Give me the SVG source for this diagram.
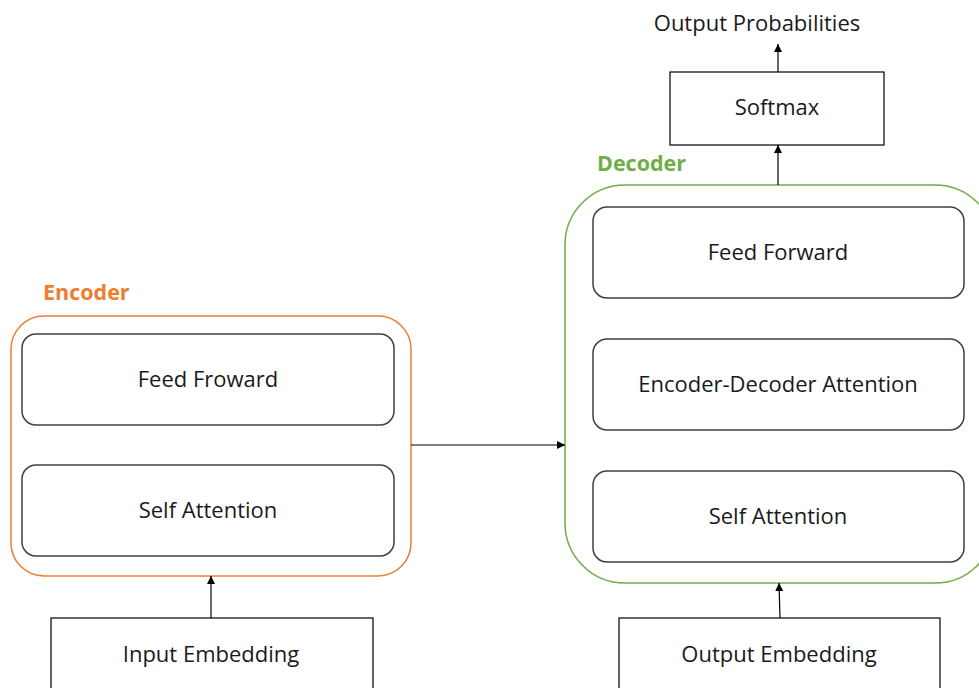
<svg xmlns="http://www.w3.org/2000/svg" width="979" height="688" viewBox="0 0 979 688">
  <style>
    .lbl { font-family: "Open Sans", "Noto Sans", sans-serif; font-size: 22px; fill: #1a1a1a; text-anchor: middle; }
    .title { font-family: "Open Sans", "Noto Sans", sans-serif; font-size: 21.5px; font-weight: bold; }
    .layer { fill: #ffffff; stroke: #404040; stroke-width: 1.5; }
    .plain { fill: #ffffff; stroke: #000000; stroke-width: 1.2; }
    .conn { fill: none; stroke: #000000; stroke-width: 1.2; marker-end: url(#arrow); }
  </style>
  <defs>
    <marker id="arrow" viewBox="0 0 10 10" refX="10" refY="5" markerWidth="8" markerHeight="8" markerUnits="userSpaceOnUse" orient="auto">
      <path d="M0,0 L10,5 L0,10 z" fill="#000000"/>
    </marker>
  </defs>
  <rect width="979" height="688" fill="#ffffff"/>

  <!-- Encoder stack -->
  <g id="encoder">
    <rect x="11" y="316" width="400" height="260" rx="33" ry="33" fill="none" stroke="#ED7D31" stroke-width="1.5"/>
    <text class="title" x="43" y="300" fill="#ED7D31">Encoder</text>
  </g>
  <g id="enc-feed-forward">
    <rect class="layer" x="22" y="334" width="372" height="91" rx="14" ry="14"/>
    <text class="lbl" x="208" y="387">Feed Froward</text>
  </g>
  <g id="enc-self-attention">
    <rect class="layer" x="22" y="465" width="372" height="91" rx="14" ry="14"/>
    <text class="lbl" x="208" y="518">Self Attention</text>
  </g>

  <!-- Decoder stack -->
  <g id="decoder">
    <rect x="565" y="185" width="430" height="398" rx="60" ry="60" fill="none" stroke="#70AD47" stroke-width="1.5"/>
    <text class="title" x="597" y="171" fill="#70AD47">Decoder</text>
  </g>
  <g id="dec-feed-forward">
    <rect class="layer" x="593" y="207" width="371" height="91" rx="14" ry="14"/>
    <text class="lbl" x="778" y="260">Feed Forward</text>
  </g>
  <g id="dec-enc-dec-attention">
    <rect class="layer" x="593" y="339" width="371" height="91" rx="14" ry="14"/>
    <text class="lbl" x="778" y="392">Encoder-Decoder Attention</text>
  </g>
  <g id="dec-self-attention">
    <rect class="layer" x="593" y="471" width="371" height="91" rx="14" ry="14"/>
    <text class="lbl" x="778" y="524">Self Attention</text>
  </g>

  <!-- Output head -->
  <g id="softmax">
    <rect class="plain" x="670" y="72" width="214" height="73"/>
    <text class="lbl" x="777" y="115">Softmax</text>
  </g>
  <g id="output-probabilities">
    <text class="lbl" x="757" y="31">Output Probabilities</text>
  </g>

  <!-- Embeddings -->
  <g id="input-embedding">
    <rect class="plain" x="51" y="618" width="322" height="80"/>
    <text class="lbl" x="211" y="662">Input Embedding</text>
  </g>
  <g id="output-embedding">
    <rect class="plain" x="619" y="618" width="321" height="80"/>
    <text class="lbl" x="779" y="662">Output Embedding</text>
  </g>

  <!-- Connectors -->
  <g id="connectors">
    <line class="conn" x1="211" y1="618" x2="211" y2="576"/>
    <line class="conn" x1="780" y1="618" x2="779" y2="583"/>
    <line class="conn" x1="411" y1="445" x2="565" y2="445"/>
    <line class="conn" x1="778" y1="185" x2="778" y2="145"/>
    <line class="conn" x1="778" y1="72" x2="778" y2="44"/>
  </g>
</svg>
